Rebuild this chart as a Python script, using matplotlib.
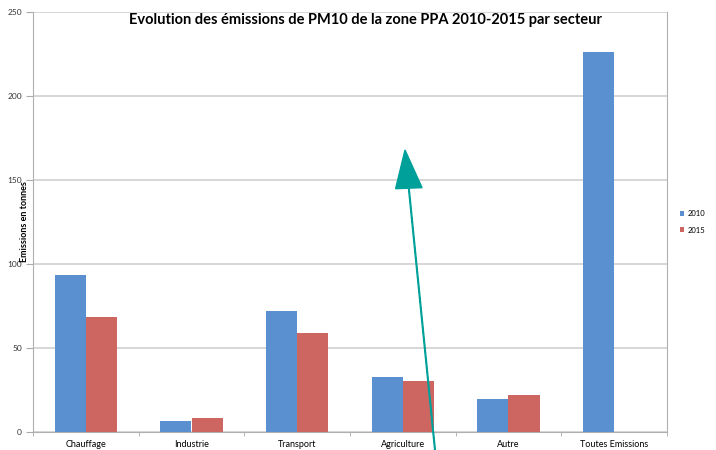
import matplotlib
matplotlib.use("Agg")
import matplotlib.pyplot as plt
import numpy as np

categories = ["Chauffage", "Industrie", "Transport", "Agriculture", "Autre", "Toutes Emissions"]
v2010 = [93.5, 6.5, 72, 32.7, 19.6, 226]
v2015 = [68.5, 8.3, 59, 30.4, 22, np.nan]
years = ["2010", "2015"]
yticks = [0, 50, 100, 150, 200, 250]

plt.rcParams['font.family'] = ['Lato', 'DejaVu Sans']

fig = plt.figure(figsize=(7.16, 4.5), dpi=100)
ax = fig.add_axes([33/716, 1-432/450, (667-33)/716, (432-12)/450])

x = np.arange(len(categories))
w = 0.295
ax.bar(x - w/2, v2010, w, color='#5a8fd0', label=years[0], zorder=3)
ax.bar(x + w/2, v2015, w, color='#cd6661', label=years[1], zorder=3)

ax.set_xlim(-0.5, len(categories) - 0.5)
ax.set_ylim(0, 250)
ax.set_yticks(yticks)
ax.set_yticklabels([str(t) for t in yticks], fontsize=6, color='#333333')
ax.yaxis.grid(True, color='#d0d0d0', linewidth=1.2, zorder=0)
ax.set_xticks(x)
ax.set_xticklabels(categories, fontsize=6.5)
ax.tick_params(axis='x', length=0, pad=6)
ax.set_xticks(np.arange(-0.5, len(categories), 1), minor=True)
ax.tick_params(axis='x', which='minor', length=3, color='#aaaaaa')
ax.tick_params(axis='y', length=5, color='#aaaaaa', pad=3)
for s in ['left', 'bottom', 'right']:
    ax.spines[s].set_color('#b0b0b0')
ax.spines['top'].set_visible(False)

ax.set_ylabel("Emissions en tonnes", fontsize=6.5, fontweight='bold')
ax.yaxis.set_label_coords(-0.006, 0.5)

fig.text(0.51, 1-20/450, "Evolution des émissions de PM10 de la zone PPA 2010-2015 par secteur",
         ha='center', va='center', fontsize=10.5, fontweight='bold')

ax.legend(loc='center left', bbox_to_anchor=(1.015, 0.5), frameon=False, fontsize=5.5,
          handlelength=0.6, handleheight=0.6, handletextpad=0.4, labelspacing=1.2,
          borderaxespad=0)

fig.patches.append(matplotlib.patches.FancyArrow(
    435/716, 0.0, (405-435)/716, (450-150)/450, width=0.001,
    head_width=0.037, head_length=0.085, length_includes_head=True,
    color='#00a09a', transform=fig.transFigure, figure=fig))

fig.savefig("out.png", dpi=100)
